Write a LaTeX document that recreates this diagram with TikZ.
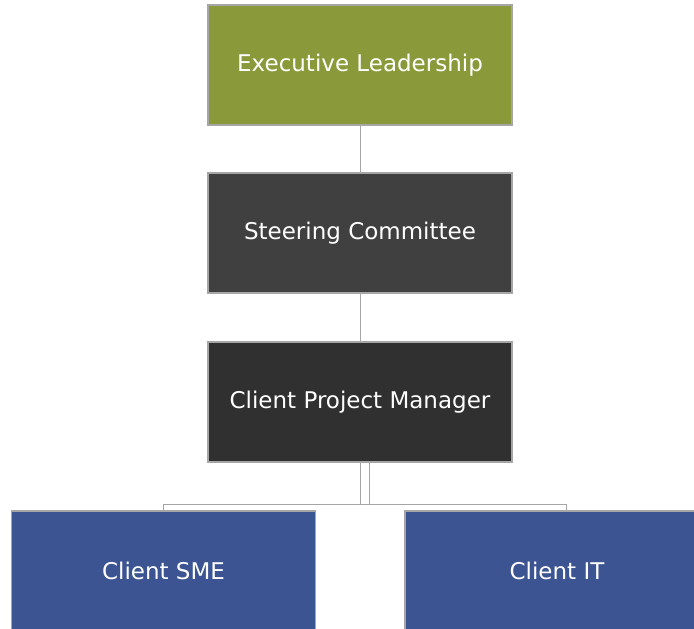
\documentclass[tikz,border=0pt]{standalone}
\usepackage{fontspec}
\setmainfont{DejaVu Sans}
\usepackage{tikz}

\definecolor{execgreen}{RGB}{138,154,59}
\definecolor{steergray}{RGB}{64,64,64}
\definecolor{pmgray}{RGB}{48,48,48}
\definecolor{clientblue}{RGB}{60,84,146}
\definecolor{edgegray}{RGB}{166,166,166}

\begin{document}
\begin{tikzpicture}[x=1pt, y=-1pt,
    orgbox/.style={draw=edgegray, line width=1.2pt, minimum width=304pt, minimum height=120pt,
        inner sep=0pt, text=white, font=\fontsize{23}{27}\selectfont},
    link/.style={draw=edgegray, line width=1pt}]
    \useasboundingbox (0, 0) rectangle (694, 629);
    \clip (0, 0) rectangle (694, 629);
    \node[orgbox, fill=execgreen] (exec) at (360, 65) {Executive Leadership};
    \node[orgbox, fill=steergray] (steer) at (360, 233) {Steering Committee};
    \node[orgbox, fill=pmgray] (cpm) at (360, 402) {Client Project Manager};
    \node[orgbox, fill=clientblue] (sme) at (163.5, 571) {Client SME};
    \node[orgbox, fill=clientblue] (cit) at (557, 571) {Client IT};
    \coordinate (split) at (0, 504);
    \draw[link] (exec) -- (steer);
    \draw[link] (steer) -- (cpm);
    \draw[link] (cpm.south) |- (split -| sme.north) -- (sme.north);
    \draw[link] ([xshift=9pt]cpm.south) |- (cpm.south |- split);
    \draw[link] (cpm.south |- split) -| ([xshift=9pt]cit.north);
\end{tikzpicture}
\end{document}
